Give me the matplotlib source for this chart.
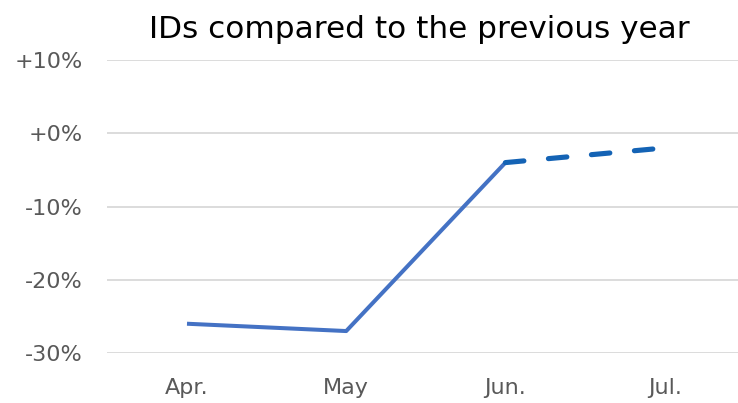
import numpy as np
import matplotlib.pyplot as plt

# monthly change of IDs vs. the previous year, in percent
months = ["Apr.", "May", "Jun.", "Jul."]
actual = [-26, -27, -4]          # Apr..Jun, solid
forecast = [-4, -2]              # Jun..Jul, dashed
yticks = [-30, -20, -10, 0, 10]
ytick_labels = ["-30%", "-20%", "-10%", "+0%", "+10%"]

fig = plt.figure(figsize=(7.38, 4.03), dpi=100)
ax = fig.add_axes([0.1455, 0.124, 0.863, 0.727])

x = np.arange(len(months))
ax.plot(x[:3], actual, color="#4472C4", lw=2.9, solid_capstyle="butt", zorder=3)
ax.plot(x[2:4], forecast, color="#1463B5", lw=3.7, ls=(0, (3.6, 4.8)),
        dash_capstyle="round", zorder=3)

ax.set_xlim(-0.5, 3.5)
ax.set_ylim(-30, 10)
ax.set_xticks(x)
ax.set_xticklabels(months)
ax.set_yticks(yticks)
ax.set_yticklabels(ytick_labels)
ax.tick_params(length=0, labelsize=16, labelcolor="#595959")
ax.tick_params(axis="y", pad=18)
ax.tick_params(axis="x", pad=18)
ax.grid(axis="y", color="#D9D9D9", lw=1.3)
ax.set_axisbelow(True)
for s in ax.spines.values():
    s.set_visible(False)

ax.set_title("IDs compared to the previous year", fontsize=22.4, color="black",
             pad=16, x=0.49)

fig.savefig("out.png", dpi=100)
